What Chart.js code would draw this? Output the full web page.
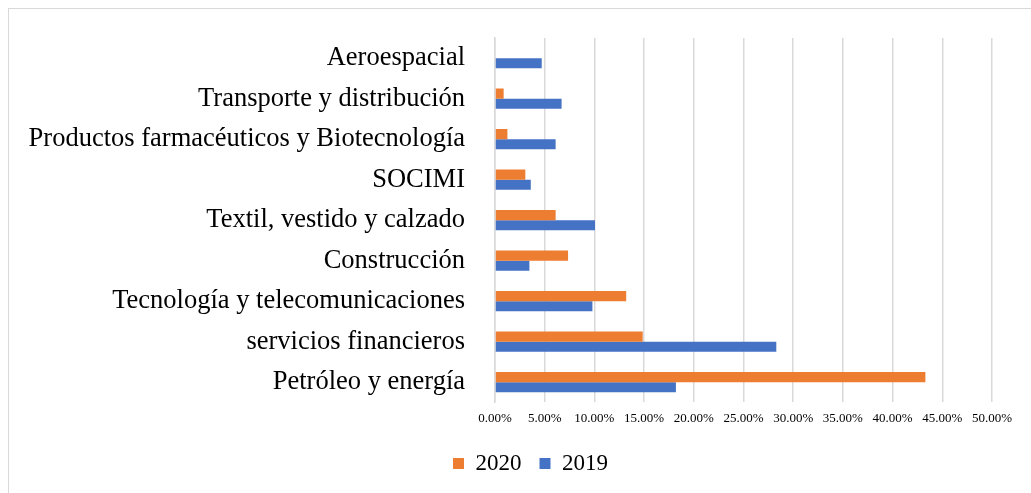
<!DOCTYPE html>
<html>
<head>
<meta charset="utf-8">
<script src="https://cdn.jsdelivr.net/npm/chart.js@4/dist/chart.umd.min.js"></script>
<style>
  html, body { margin: 0; padding: 0; background: #fff; }
  #wrap { position: relative; width: 1031px; height: 493px; }
  #frame { position: absolute; left: 8px; top: 8px; width: 1030px; height: 492px; border: 1.5px solid #d9d9d9; box-sizing: border-box; }
  canvas { position: absolute; left: 0; top: 0; }
</style>
</head>
<body>
<div id="wrap">
  <div id="frame"></div>
  <canvas id="myChart" width="1031" height="493"></canvas>
</div>
<script>
// data
const categories = [
  "Aeroespacial",
  "Transporte y distribución",
  "Productos farmacéuticos y Biotecnología",
  "SOCIMI",
  "Textil, vestido y calzado",
  "Construcción",
  "Tecnología y telecomunicaciones",
  "servicios financieros",
  "Petróleo y energía",
];
const values2020 = [0, 0.0087, 0.0125, 0.0305, 0.061, 0.0735, 0.132, 0.1486, 0.433];
const values2019 = [0.047, 0.067, 0.061, 0.036, 0.1006, 0.0346, 0.098, 0.283, 0.182];
const tickStep = 0.05;

const serif = "'Liberation Serif', 'Times New Roman', serif";

// nudge the legend a bit to the right, like the original
const legendShift = {
  id: "legendShift",
  afterLayout(chart) {
    chart.legend.left += 22;
    chart.legend.right += 22;
  },
};

new Chart(document.getElementById("myChart"), {
  type: "bar",
  data: {
    labels: categories,
    datasets: [
      {
        label: "2020",
        data: values2020,
        backgroundColor: "#ed7d31",
        categoryPercentage: 0.5,
        barPercentage: 1.0,
      },
      {
        label: "2019",
        data: values2019,
        backgroundColor: "#4472c4",
        categoryPercentage: 0.5,
        barPercentage: 1.0,
      },
    ],
  },
  plugins: [legendShift],
  options: {
    indexAxis: "y",
    responsive: false,
    animation: false,
    layout: {
      padding: { left: 25, right: 39, top: 37, bottom: 8 },
    },
    plugins: {
      legend: {
        position: "bottom",
        labels: {
          font: { family: serif, size: 23 },
          color: "#000",
          boxWidth: 11,
          boxHeight: 11,
          padding: 18,
        },
      },
      tooltip: { enabled: false },
    },
    scales: {
      x: {
        min: 0,
        max: 0.5,
        grid: { color: "#d9d9d9", lineWidth: 1.5, drawTicks: false },
        border: { display: false },
        ticks: {
          stepSize: tickStep,
          padding: 8,
          color: "#000",
          font: { family: serif, size: 13 },
          callback: (v) => (v * 100).toFixed(2) + "%",
        },
      },
      y: {
        grid: { display: false },
        border: { display: true, color: "#d9d9d9", width: 1.5 },
        afterFit: (s) => { s.width = 470; },
        ticks: {
          padding: 22,
          color: "#000",
          font: { family: serif, size: 26.5 },
        },
      },
    },
  },
});
</script>
</body>
</html>
